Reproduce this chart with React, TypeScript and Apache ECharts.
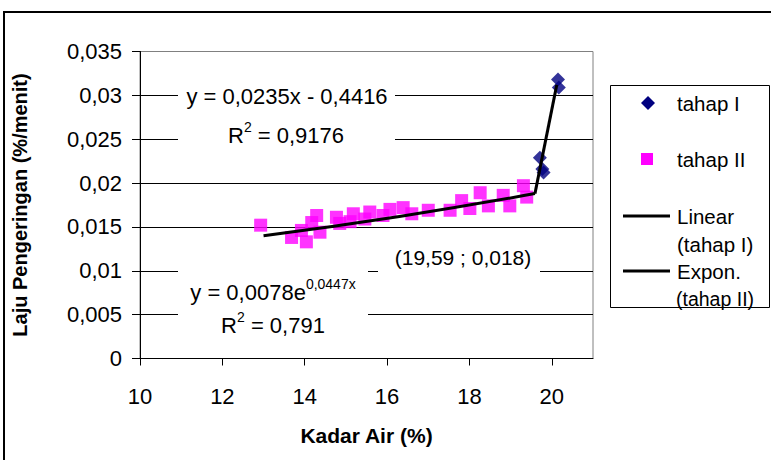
import React, { useEffect, useRef } from "react";
import * as echarts from "echarts";

const tahap1X = [19.71, 19.77, 19.8, 20.15, 20.17];
const tahap1Y = [0.0229, 0.0216, 0.0212, 0.0318, 0.0309];

const tahap2X = [12.93, 13.68, 13.92, 14.04, 14.17, 14.29, 14.37, 14.77, 14.85, 15.1, 15.18, 15.46, 15.58, 15.9, 16.07, 16.39, 16.6, 17.0, 17.53, 17.81, 18.01, 18.26, 18.46, 18.82, 18.98, 19.31, 19.39];
const tahap2Y = [0.0152, 0.0138, 0.0146, 0.0133, 0.0155, 0.0163, 0.0144, 0.0161, 0.0154, 0.0156, 0.0165, 0.0159, 0.0167, 0.0163, 0.0170, 0.0172, 0.0165, 0.0169, 0.0169, 0.0180, 0.0171, 0.0189, 0.0174, 0.0186, 0.0174, 0.0197, 0.0184];

const linearX = [19.59, 20.12];
const linearY = [0.0188, 0.0312];

const exponX = [13.0, 16.3, 19.59];
const exponY = [0.0140, 0.0162, 0.0188];

const xTicks = [10, 12, 14, 16, 18, 20];
const legendNames = ["tahap I", "tahap II", "Linear", "(tahap I)", "Expon.", "(tahap II)"];
const eq1 = "y = 0,0235x - 0,4416";
const r1 = "0,9176";
const eq2Base = "y = 0,0078e";
const eq2Exp = "0,0447x";
const r2 = "0,791";
const pointLabel = "(19,59 ; 0,018)";

const FONT = "'Liberation Sans', Arial, sans-serif";

const zip = (xs: number[], ys: number[]) => xs.map((x, i) => [x, ys[i]]);

export default function App() {
  const ref = useRef<HTMLDivElement>(null);
  useEffect(() => {
    document.body.style.margin = "0";
    const chart = echarts.init(ref.current!, null, { renderer: "svg" });
    const textEl = (text: string, x: number, y: number, align = "center", size = 21) => ({
      type: "text",
      x,
      y,
      z: 101,
      style: { text, fontFamily: FONT, fontSize: size, fill: "#000", align, verticalAlign: "middle" },
    });
    const whiteRect = (x: number, y: number, w: number, h: number) => ({
      type: "rect",
      z: 100,
      shape: { x, y, width: w, height: h },
      style: { fill: "#fff" },
    });
    const rich = {
      b: { fontFamily: FONT, fontSize: 22, fill: "#000", verticalAlign: "bottom", lineHeight: 26 },
      s: { fontFamily: FONT, fontSize: 14, fill: "#000", verticalAlign: "top", lineHeight: 26, padding: [0, 0, 10, 0] },
    };
    const richText = (text: string, x: number, y: number) => ({
      type: "text",
      x,
      y,
      z: 101,
      style: { text, align: "center", verticalAlign: "middle", rich },
    });
    const option: any = {
      animation: false,
      backgroundColor: "#fff",
      textStyle: { fontFamily: FONT },
      grid: {
        left: 140,
        top: 51.5,
        right: 178,
        bottom: 101.5,
        show: true,
        borderColor: "#808080",
        borderWidth: 1,
        backgroundColor: "transparent",
      },
      xAxis: {
        type: "value",
        min: 10,
        max: 21,
        interval: 2,
        name: "Kadar Air (%)",
        nameLocation: "middle",
        nameGap: 66,
        nameTextStyle: { fontFamily: FONT, fontSize: 21, fontWeight: "bold", color: "#000" },
        axisLine: { show: true, onZero: false, lineStyle: { color: "#000", width: 1 } },
        axisTick: { show: true, length: 7, lineStyle: { color: "#000" }, customValues: xTicks },
        axisLabel: { fontFamily: FONT, fontSize: 22, color: "#000", margin: 27, customValues: xTicks },
        splitLine: { show: false },
      },
      yAxis: {
        type: "value",
        min: 0,
        max: 0.035,
        interval: 0.005,
        name: "Laju Pengeringan (%/menit)",
        nameLocation: "middle",
        nameGap: 110,
        nameRotate: 90,
        nameTextStyle: { fontFamily: FONT, fontSize: 20, fontWeight: "bold", color: "#000" },
        axisLine: { show: true, lineStyle: { color: "#000", width: 1 } },
        axisTick: { show: true, length: 8, lineStyle: { color: "#000" } },
        axisLabel: {
          fontFamily: FONT,
          fontSize: 22,
          color: "#000",
          margin: 18,
          formatter: (v: number) => String(Number(v.toFixed(3))).replace(".", ","),
        },
        splitLine: { show: true, showMaxLine: false, lineStyle: { color: "#000", width: 1 } },
      },
      series: [
        {
          name: "tahap II",
          type: "scatter",
          symbol: "rect",
          symbolSize: 13,
          itemStyle: { color: "#FF00FF" },
          data: zip(tahap2X, tahap2Y),
          z: 3,
        },
        {
          name: "tahap I",
          type: "scatter",
          symbol: "diamond",
          symbolSize: 14,
          itemStyle: { color: "#000080" },
          data: zip(tahap1X, tahap1Y),
          z: 3,
        },
        {
          name: "Linear (tahap I)",
          type: "line",
          showSymbol: false,
          symbol: "none",
          lineStyle: { color: "#000", width: 3 },
          data: zip(linearX, linearY),
          z: 5,
        },
        {
          name: "Expon. (tahap II)",
          type: "line",
          showSymbol: false,
          symbol: "none",
          smooth: true,
          lineStyle: { color: "#000", width: 3 },
          data: zip(exponX, exponY),
          z: 5,
        },
      ],
      graphic: [
        {
          type: "rect",
          z: 100,
          shape: { x: 4, y: 12, width: 800, height: 500 },
          style: { fill: "none", stroke: "#000", lineWidth: 2 },
          silent: true,
        },
        whiteRect(178, 82, 217, 64),
        textEl(eq1, 287, 96, "center", 22),
        richText(`{b|R}{s|2}{b| = ${r1}}`, 286, 133),
        whiteRect(178, 262, 190, 66),
        richText(`{b|${eq2Base}}{s|${eq2Exp}}`, 273, 290),
        richText(`{b|R}{s|2}{b| = ${r2}}`, 273, 323),
        whiteRect(378, 244, 162, 30),
        textEl(pointLabel, 463, 257, "center", 21),
        {
          type: "rect",
          z: 100,
          shape: { x: 610.5, y: 85.5, width: 159, height: 222 },
          style: { fill: "#fff", stroke: "#000", lineWidth: 1 },
        },
        {
          type: "polygon",
          z: 101,
          shape: { points: [[648, 96], [655, 103], [648, 110], [641, 103]] },
          style: { fill: "#000080" },
        },
        {
          type: "rect",
          z: 101,
          shape: { x: 641, y: 153, width: 12, height: 12 },
          style: { fill: "#FF00FF" },
        },
        {
          type: "line",
          z: 101,
          shape: { x1: 623, y1: 216, x2: 670, y2: 216 },
          style: { stroke: "#000", lineWidth: 3 },
        },
        {
          type: "line",
          z: 101,
          shape: { x1: 623, y1: 271, x2: 670, y2: 271 },
          style: { stroke: "#000", lineWidth: 3 },
        },
        textEl(legendNames[0], 677, 103, "left", 20.5),
        textEl(legendNames[1], 677, 159, "left", 20.5),
        textEl(legendNames[2], 677, 216, "left", 20.5),
        textEl(legendNames[3], 677, 244, "left", 20.5),
        textEl(legendNames[4], 677, 271, "left", 20.5),
        textEl(legendNames[5], 676, 299, "left", 19.5),
      ],
    };
    chart.setOption(option);
    return () => chart.dispose();
  }, []);
  return <div ref={ref} style={{ position: "absolute", left: 0, top: 0, width: 771, height: 460 }} />;
}
